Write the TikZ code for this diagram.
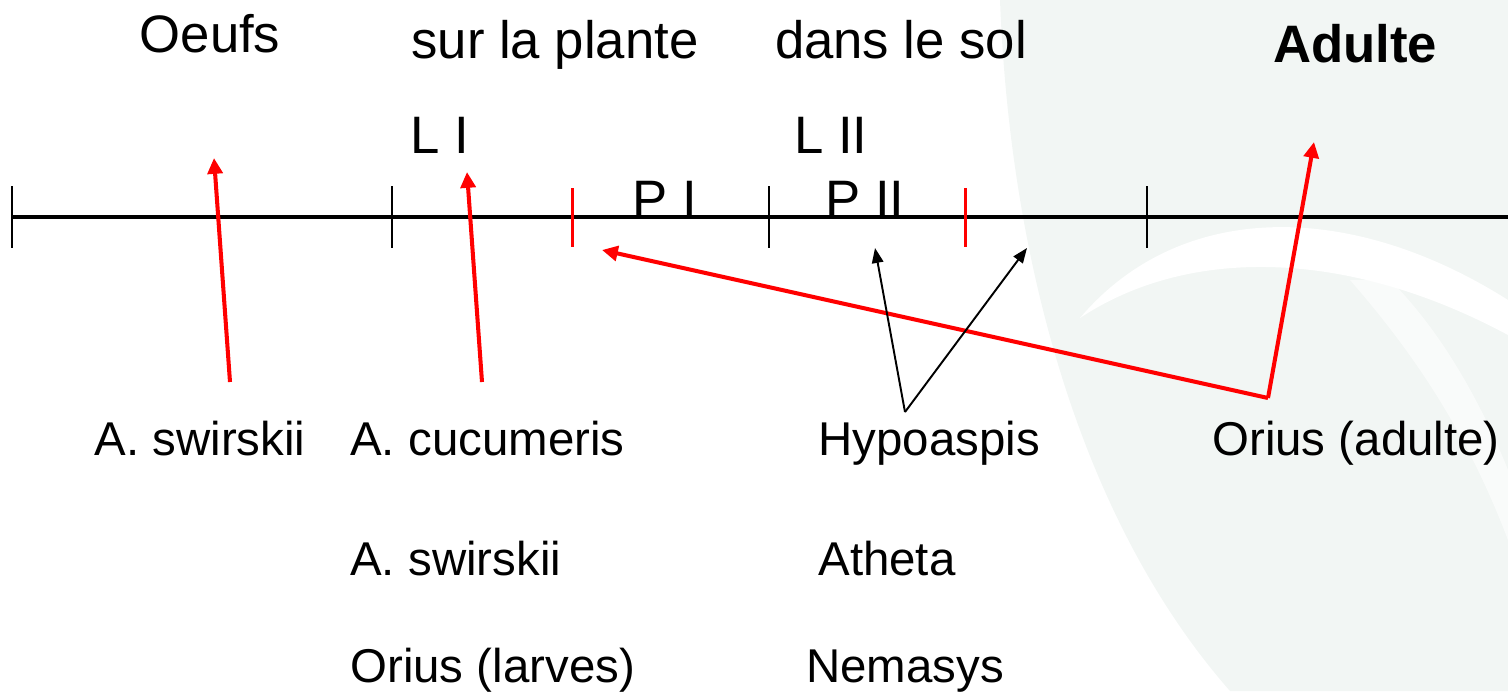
\documentclass[tikz,border=0pt]{standalone}
\usepackage{fontspec}
\setmainfont{Liberation Sans}
\usetikzlibrary{
  arrows.meta,
  positioning
}
\definecolor{wmark}{RGB}{242,246,244}

\begin{document}
\begin{tikzpicture}[x=0.02cm, y=-0.02cm]
\useasboundingbox (0,0) rectangle (1508,691);

% -------------------------
% Background watermark
% -------------------------
\fill[wmark] (1000,0) .. controls (1010,260) and (1080,520) .. (1230,691)
  -- (1508,691) -- (1508,0) -- cycle;
\fill[white] (1080,318) .. controls (1190,245) and (1350,250) .. (1508,335)
  -- (1508,300) .. controls (1350,200) and (1180,200) .. (1080,318) -- cycle;
\fill[white, opacity=0.6] (1350,280) .. controls (1420,360) and (1470,440) .. (1508,540)
  -- (1508,470) .. controls (1480,400) and (1440,330) .. (1390,280) -- cycle;

% -------------------------
% Nodes
% -------------------------
\begin{scope}[
  every node/.style={inner sep=0pt, anchor=base, font=\fontsize{27}{32}\selectfont}
]

% Stages
\begin{scope}[every node/.append style={font=\fontsize{30}{36}\selectfont}]
\node (oeufs)  at (210, 52)  {Oeufs};
\node (plante) at (555, 58)  {sur la plante};
\node (sol)    at (901, 58)  {dans le sol};
\node (adulte) at (1355, 62) {\bfseries Adulte};

\node (larveI)  at (440, 153) {L I};
\node (larveII) at (831, 153) {L II};
\node (pupeI)   at (665, 217) {P I};
\node (pupeII)  at (865, 217) {P II};
\end{scope}

% Auxiliaries
\node (swirskiiA) at (200, 455) {A. swirskii};
\node[anchor=base west] (cucumeris) at (350, 455) {A. cucumeris};
\node[anchor=base west] (swirskiiB) at (350, 575) {A. swirskii};
\node[anchor=base west] (oriusL)    at (350, 682) {Orius (larves)};
\node[anchor=base west] (hypoaspis) at (818, 455) {Hypoaspis};
\node[anchor=base west] (atheta)    at (818, 575) {Atheta};
\node[anchor=base west] (nemasys)   at (806, 682) {Nemasys};
\node[anchor=base west] (oriusA)    at (1212, 455) {Orius (adulte)};

\end{scope}

% Arrow ends
\coordinate (swirskiiTop) at (230, 382);
\coordinate (oeufsPt)     at (214, 158);
\coordinate (cucTop)      at (482, 382);
\coordinate (larvePt)     at (467, 172);
\coordinate (hypoTop)     at (905, 412);
\coordinate (pupePt)      at (875, 248);
\coordinate (solPt)       at (1027, 248);
\coordinate (oriusTop)    at (1268, 398);
\coordinate (adultePt)    at (1314, 142);
\coordinate (pupeRedPt)   at (602, 250);

% -------------------------
% Time line
% -------------------------
\draw[line width=1.8pt] (12, 217) -- (1508, 217);
\foreach \x in {12, 392, 769, 1147}
  \draw[line width=1.1pt] (\x, 186) -- (\x, 248);
\foreach \x in {572, 965}
  \draw[red, line width=1.7pt] (\x, 188) -- (\x, 247);

% -------------------------
% Edges
% -------------------------
\begin{scope}[>={Triangle[length=9pt, width=8.5pt]}]
\path [->, red, line width=2.3pt] (swirskiiTop) edge (oeufsPt);
\path [->, red, line width=2.3pt] (cucTop) edge (larvePt);
\path [->, red, line width=2.3pt] (oriusTop) edge (adultePt);
\path [->, red, line width=2.3pt] (oriusTop) edge (pupeRedPt);
\end{scope}

\begin{scope}[>={Triangle[length=8.5pt, width=6.5pt]}]
\path [->, line width=1.1pt] (hypoTop) edge (pupePt);
\path [->, line width=1.1pt] (hypoTop) edge (solPt);
\end{scope}

\end{tikzpicture}
\end{document}
